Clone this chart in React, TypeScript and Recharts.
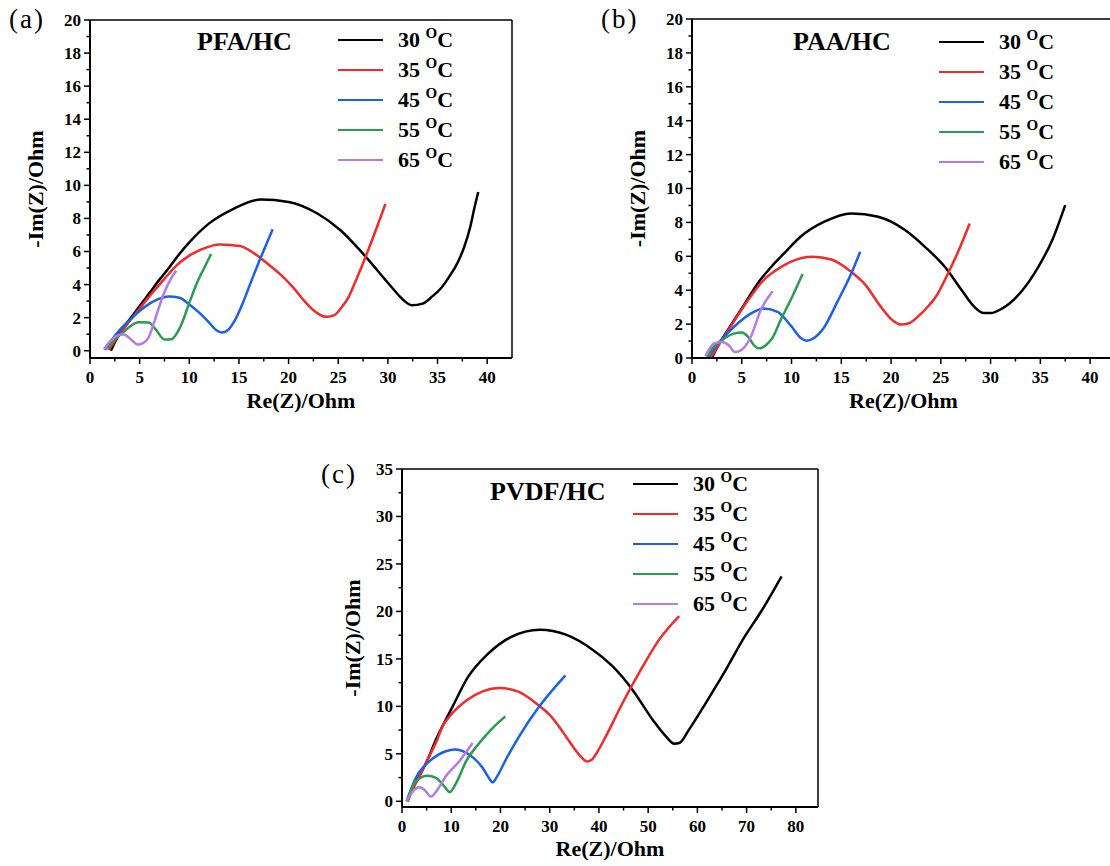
import React from "react";
import { LineChart, Line, XAxis, YAxis, ReferenceLine } from "recharts";

// ---------- shared series info ----------
const temps = ["30", "35", "45", "55", "65"];
const colors = ["#000000", "#f22a2a", "#1c60e6", "#2b9b52", "#b47be8"];

// ---------- Panel (a) PFA/HC : [Re(Z), -Im(Z)] ----------
const pfa30 = [[2.1,0],[2.5,0.5],[3,1.05],[4,1.9],[5,2.7],[6,3.5],[7,4.3],[8,5.05],[9,5.85],[10,6.55],[12,7.7],[14.5,8.6],[17.2,9.15],[20,9.0],[22.9,8.3],[25.2,7.3],[27.6,5.8],[30.3,3.9],[31.5,3.1],[32.4,2.75],[33.5,2.85],[34.5,3.3],[35.3,3.75],[36.2,4.5],[37,5.3],[37.7,6.3],[38.3,7.5],[38.7,8.6],[39.1,9.6]];
const pfa35 = [[1.9,0.05],[2.5,0.6],[3,1.0],[4,1.8],[5,2.55],[6,3.3],[7,4.0],[8,4.7],[8.7,5.15],[10,5.75],[11.1,6.1],[13.1,6.43],[15.1,6.33],[16.5,5.9],[17.8,5.3],[19.2,4.6],[20.5,3.8],[21.6,3.0],[22.6,2.4],[23.4,2.1],[23.9,2.05],[24.6,2.15],[25.3,2.6],[26.0,3.2],[26.6,4.0],[27.9,5.9],[29.75,8.87]];
const pfa45 = [[1.5,0.05],[2,0.5],[3,1.26],[4,1.85],[4.9,2.36],[6,2.85],[7,3.15],[7.9,3.28],[9,3.2],[10,2.8],[11,2.3],[12,1.7],[12.7,1.25],[13.3,1.1],[13.9,1.25],[14.6,1.85],[15.4,2.9],[16.3,4.3],[17.1,5.5],[17.8,6.5],[18.4,7.34]];
const pfa55 = [[1.7,0.1],[2.2,0.5],[3.2,1.05],[4,1.45],[4.9,1.72],[5.9,1.7],[6.6,1.3],[7.5,0.68],[8.2,0.7],[9.1,1.45],[10.1,3.06],[10.9,4.27],[11.5,5.0],[12.2,5.85]];
const pfa65 = [[1.4,0.08],[2,0.55],[2.7,0.9],[3.4,0.98],[4.1,0.7],[4.8,0.38],[5.3,0.45],[5.9,0.8],[6.5,1.8],[7.4,3.4],[8.1,4.3],[8.7,4.85]];

// ---------- Panel (b) PAA/HC ----------
const paa30 = [[2.0,0],[2.5,0.6],[3,1.1],[4.2,2.2],[5.4,3.3],[6.6,4.4],[8,5.4],[9.3,6.2],[10.9,7.15],[13.3,8.04],[16.0,8.53],[18.7,8.33],[21.4,7.55],[23.4,6.56],[25.4,5.38],[27.1,4.0],[28.4,3.0],[29.3,2.65],[30.0,2.65],[31.1,2.9],[33.2,4.0],[34.8,5.38],[36.2,6.96],[37.5,9.02]];
const paa35 = [[1.85,0],[2.5,0.6],[3,1.05],[4.2,2.15],[5.5,3.3],[7.2,4.6],[8.5,5.2],[9.9,5.67],[12.1,5.97],[14.0,5.81],[16.0,5.08],[17.3,4.4],[19.0,3.0],[20.2,2.2],[21.0,1.97],[21.8,2.05],[22.8,2.5],[23.8,3.1],[24.6,3.7],[25.4,4.6],[26.8,6.36],[27.9,7.94]];
const paa45 = [[1.6,0],[2.2,0.55],[2.9,1.04],[4.2,1.83],[5.9,2.62],[7.2,2.92],[8.6,2.72],[9.9,1.93],[11.0,1.15],[11.5,1.02],[12.3,1.2],[13.3,1.83],[14.6,3.31],[16.0,4.98],[16.9,6.27]];
const paa55 = [[1.5,0],[2.1,0.6],[2.9,1.0],[4.2,1.44],[5.0,1.5],[5.7,1.2],[6.3,0.7],[6.8,0.57],[7.5,0.8],[8.1,1.2],[8.9,2.23],[9.9,3.41],[11.1,4.95]];
const paa65 = [[1.35,0.1],[2.2,0.85],[3.0,0.95],[3.7,0.75],[4.3,0.35],[4.9,0.45],[5.9,1.24],[6.9,2.82],[8.1,3.94]];

// ---------- Panel (c) PVDF/HC ----------
const pvdf30 = [[1.15,0],[2.5,1.7],[3.5,2.63],[5.5,4.74],[6.9,6.5],[8.5,8.2],[10.3,10.0],[13.3,13.0],[17.4,15.5],[22.1,17.3],[28.0,18.08],[33.3,17.55],[38.7,15.97],[42.8,14.2],[46.8,11.76],[50.9,8.6],[53.6,6.84],[55.3,6.07],[56.3,6.14],[58.3,7.55],[61.7,10.35],[65.8,13.86],[69.2,17.0],[73.2,20.2],[77.1,23.7]];
const pvdf35 = [[1.1,0],[2.5,1.6],[3.5,2.6],[5.5,4.7],[7,6.3],[8.25,7.9],[9.6,8.9],[11,9.7],[13.0,10.6],[16.4,11.58],[19.8,11.93],[23.6,11.55],[27.9,10.05],[30,9.1],[32,7.8],[34,6.3],[36,4.9],[37.6,4.2],[38.6,4.4],[40,5.5],[41.4,6.84],[44.8,10.35],[48.9,14.2],[52.2,17.0],[56.3,19.5]];
const pvdf45 = [[0.95,0],[2.8,2.46],[5.55,4.2],[8.9,5.27],[10.6,5.45],[13.7,4.9],[16.4,3.5],[17.6,2.5],[18.4,2.0],[19.3,2.6],[21.1,4.4],[23.8,6.84],[27.9,10.0],[33.2,13.27]];
const pvdf55 = [[0.95,0],[2.8,2.1],[5.2,2.68],[6.9,2.46],[8.6,1.58],[9.7,0.98],[11.0,1.93],[13.0,4.2],[15.7,6.14],[18.4,7.72],[21.0,8.95]];
const pvdf65 = [[0.95,0],[2.2,1.05],[3.5,1.47],[4.5,1.23],[5.9,0.5],[7.2,1.23],[8.9,2.63],[11.6,4.2],[14.35,6.14]];

// ---------- ticks ----------
const xTicksAB = [0,2.5,5,7.5,10,12.5,15,17.5,20,22.5,25,27.5,30,32.5,35,37.5,40];
const yTicksAB = [0,1,2,3,4,5,6,7,8,9,10,11,12,13,14,15,16,17,18,19,20];
const xTicksC = [0,5,10,15,20,25,30,35,40,45,50,55,60,65,70,75,80];
const yTicksC = [0,2.5,5,7.5,10,12.5,15,17.5,20,22.5,25,27.5,30,32.5,35];

const SERIF = "'Liberation Serif', 'Times New Roman', Times, serif";
const toPts = (arr: number[][]) => arr.map(([x, y]) => ({ x, y }));
const isMajor = (v: number, step: number) => Math.abs(v / step - Math.round(v / step)) < 1e-6;

const makeYTick = (step: number) => (props: any) => {
  const { x, y, payload } = props;
  const v = payload.value;
  const major = isMajor(v, step);
  return (
    <g>
      <line x1={x} x2={x - (major ? 6 : 3.5)} y1={y} y2={y} stroke="#000" strokeWidth={1.5} />
      {major && (
        <text x={x - 9} y={y} dy="0.35em" textAnchor="end" fontFamily={SERIF} fontWeight="bold" fontSize={17} fill="#000">
          {v}
        </text>
      )}
    </g>
  );
};

const makeXTick = (step: number) => (props: any) => {
  const { x, y, payload } = props;
  const v = payload.value;
  const major = isMajor(v, step);
  return (
    <g>
      <line x1={x} x2={x} y1={y} y2={y + (major ? 6 : 3.5)} stroke="#000" strokeWidth={1.5} />
      {major && (
        <text x={x} y={y + 19} dy="0.35em" textAnchor="middle" fontFamily={SERIF} fontWeight="bold" fontSize={17} fill="#000">
          {v}
        </text>
      )}
    </g>
  );
};

type PanelProps = {
  left: number; top: number; width: number; height: number;
  margin: { top: number; right: number; left: number; bottom: number };
  yAxisWidth: number; xAxisHeight: number;
  xDomain: [number, number]; yDomain: [number, number];
  xTicks: number[]; yTicks: number[]; xStep: number; yStep: number;
  series: number[][][];
  title: string; titlePos: { left: number; top: number };
  legendPos: { left: number; top: number };
  panelLabel: string; panelLabelPos: { left: number; top: number };
  yLabelOffset: number; xLabelOffset: number;
};

function Panel(p: PanelProps) {
  return (
    <div style={{ position: "absolute", left: p.left, top: p.top, width: p.width, height: p.height }}>
      <LineChart width={p.width} height={p.height} margin={p.margin}>
        <XAxis
          dataKey="x" type="number" domain={p.xDomain} ticks={p.xTicks} interval={0} allowDataOverflow
          height={p.xAxisHeight} tickSize={0} tickMargin={0} tickLine={false}
          axisLine={{ stroke: "#000", strokeWidth: 2 }} tick={makeXTick(p.xStep)}
          label={{ value: "Re(Z)/Ohm", position: "insideBottom", offset: p.xLabelOffset, style: { fontFamily: SERIF, fontWeight: "bold", fontSize: 22, fill: "#000" } }}
        />
        <YAxis
          dataKey="y" type="number" domain={p.yDomain} ticks={p.yTicks} interval={0} allowDataOverflow
          width={p.yAxisWidth} tickSize={0} tickMargin={0} tickLine={false}
          axisLine={{ stroke: "#000", strokeWidth: 2 }} tick={makeYTick(p.yStep)}
          label={{ value: "-Im(Z)/Ohm", angle: -90, position: "insideLeft", offset: p.yLabelOffset, style: { textAnchor: "middle", fontFamily: SERIF, fontWeight: "bold", fontSize: 22, fill: "#000" } }}
        />
        <ReferenceLine y={p.yDomain[1]} stroke="#000" strokeWidth={1.5} />
        <ReferenceLine x={p.xDomain[1]} stroke="#000" strokeWidth={1.5} />
        {p.series.map((s, i) => (
          <Line
            key={temps[i]} data={toPts(s)} dataKey="y" name={`${temps[i]} OC`} type="monotone"
            stroke={colors[i]} strokeWidth={2.5} dot={false} activeDot={false} isAnimationActive={false}
          />
        ))}
      </LineChart>
      <div style={{ position: "absolute", left: p.panelLabelPos.left, top: p.panelLabelPos.top, fontFamily: SERIF, fontSize: 27, lineHeight: 1, letterSpacing: 2, color: "#000" }}>
        {p.panelLabel}
      </div>
      <div style={{ position: "absolute", left: p.titlePos.left, top: p.titlePos.top, fontFamily: SERIF, fontWeight: "bold", fontSize: 26, lineHeight: 1, color: "#000" }}>
        {p.title}
      </div>
      <div style={{ position: "absolute", left: p.legendPos.left, top: p.legendPos.top }}>
        {temps.map((t, i) => (
          <div key={t} style={{ display: "flex", alignItems: "center", height: 30 }}>
            <div style={{ width: 45, height: 2.5, background: colors[i] }} />
            <div style={{ marginLeft: 15, fontFamily: SERIF, fontWeight: "bold", fontSize: 22, lineHeight: 1, color: "#000", whiteSpace: "nowrap" }}>
              {t}{" "}
              <span style={{ fontSize: 15, position: "relative", top: -9 }}>O</span>C
            </div>
          </div>
        ))}
      </div>
    </div>
  );
}

export default function App() {
  return (
    <div style={{ position: "absolute", left: 0, top: 0, width: 1110, height: 866, overflow: "hidden", background: "#fff" }}>
      <Panel
        left={0} top={0} width={520} height={420}
        margin={{ top: 20, right: 8, left: 0, bottom: 0 }}
        yAxisWidth={90} xAxisHeight={62}
        xDomain={[0, 42.5]} yDomain={[-0.44, 20]}
        xTicks={xTicksAB} yTicks={yTicksAB} xStep={5} yStep={2}
        series={[pfa30, pfa35, pfa45, pfa55, pfa65]}
        title="PFA/HC" titlePos={{ left: 197, top: 29 }}
        legendPos={{ left: 338, top: 25 }}
        panelLabel="(a)" panelLabelPos={{ left: 9, top: 6 }}
        yLabelOffset={35} xLabelOffset={12}
      />
      <Panel
        left={600} top={0} width={515} height={420}
        margin={{ top: 19, right: 0, left: 0, bottom: 0 }}
        yAxisWidth={92} xAxisHeight={62}
        xDomain={[0, 42.5]} yDomain={[0, 20]}
        xTicks={xTicksAB} yTicks={yTicksAB} xStep={5} yStep={2}
        series={[paa30, paa35, paa45, paa55, paa65]}
        title="PAA/HC" titlePos={{ left: 193, top: 29 }}
        legendPos={{ left: 339, top: 27 }}
        panelLabel="(b)" panelLabelPos={{ left: 1, top: 6 }}
        yLabelOffset={37} xLabelOffset={12}
      />
      <Panel
        left={300} top={450} width={520} height={416}
        margin={{ top: 19, right: 2, left: 0, bottom: 0 }}
        yAxisWidth={102} xAxisHeight={59}
        xDomain={[0, 84.5]} yDomain={[-0.6, 35]}
        xTicks={xTicksC} yTicks={yTicksC} xStep={10} yStep={5}
        series={[pvdf30, pvdf35, pvdf45, pvdf55, pvdf65]}
        title="PVDF/HC" titlePos={{ left: 190, top: 29 }}
        legendPos={{ left: 333, top: 19 }}
        panelLabel="(c)" panelLabelPos={{ left: 21, top: 11 }}
        yLabelOffset={52} xLabelOffset={10}
      />
    </div>
  );
}
